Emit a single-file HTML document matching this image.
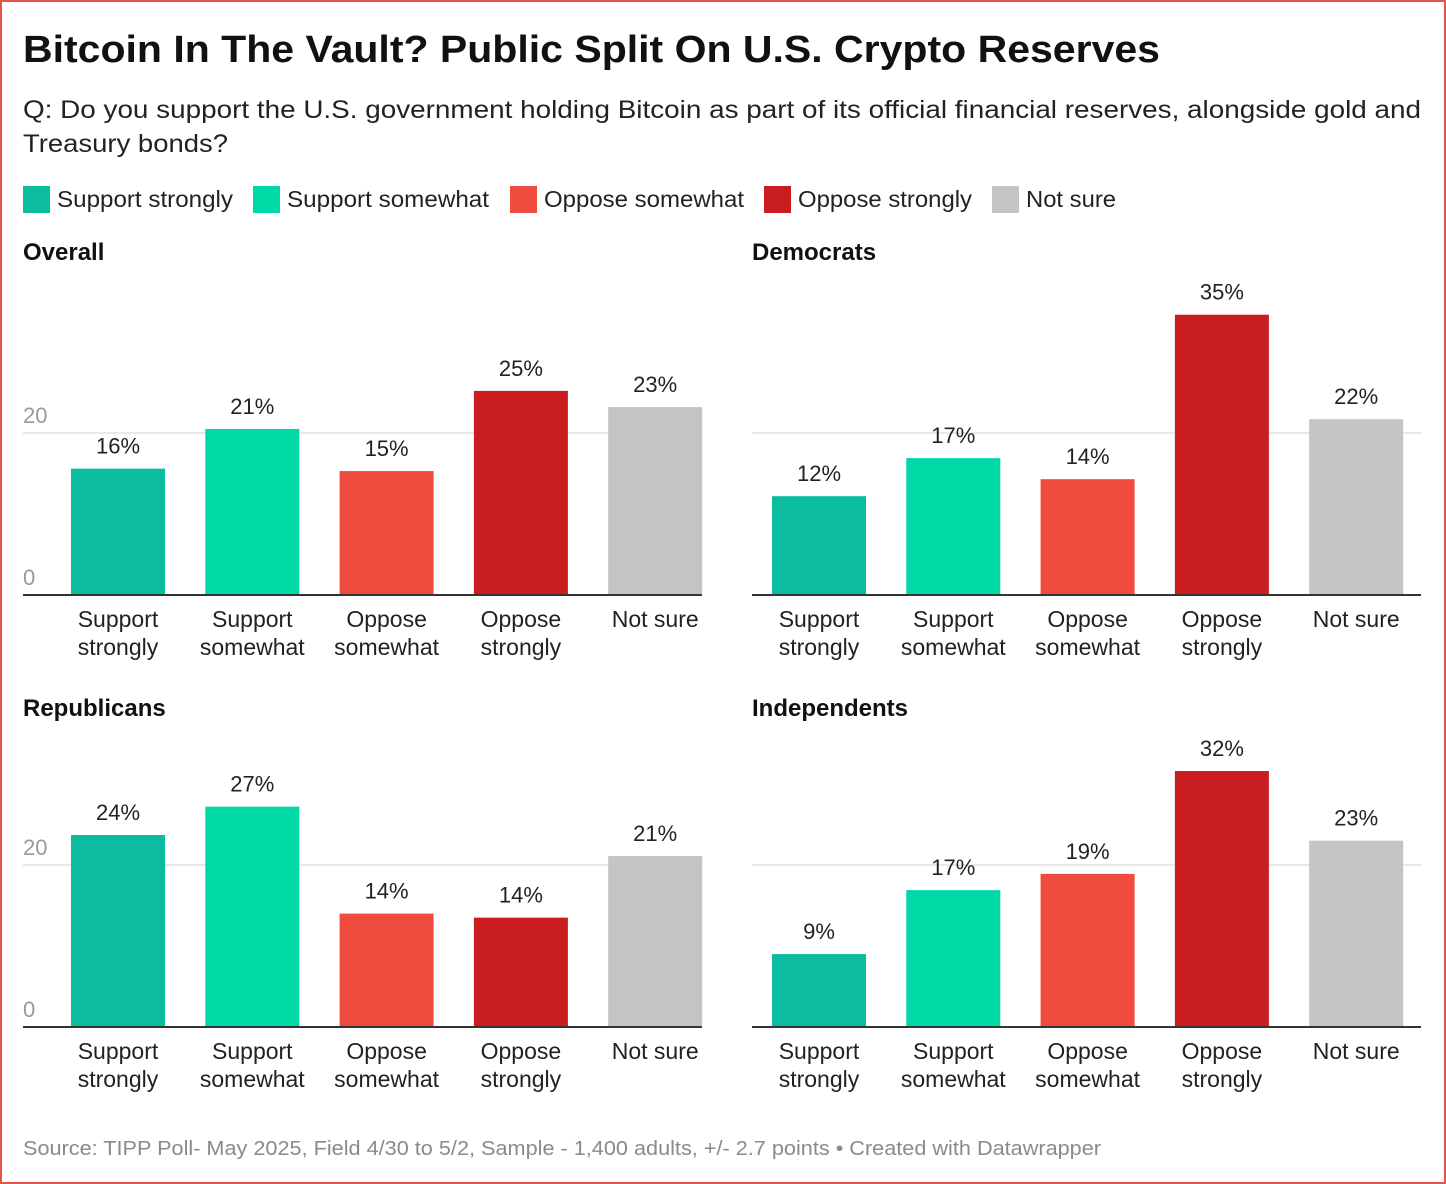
<!DOCTYPE html>
<html><head><meta charset="utf-8">
<style>
html,body{margin:0;padding:0;background:#fff;}
#wrap{position:relative;width:1446px;height:1184px;box-sizing:border-box;border:2px solid #e0564b;overflow:hidden;}
svg text{font-family:"Liberation Sans",Arial,sans-serif;}
</style></head>
<body>
<div id="wrap">
<svg id="svg" width="1442" height="1180" viewBox="2 2 1442 1180" xmlns="http://www.w3.org/2000/svg">
<text x="23" y="62" font-size="38" font-weight="bold" fill="#111" textLength="1137" lengthAdjust="spacingAndGlyphs">Bitcoin In The Vault? Public Split On U.S. Crypto Reserves</text>
<text x="23" y="118" font-size="25" fill="#222" textLength="1398" lengthAdjust="spacingAndGlyphs">Q: Do you support the U.S. government holding Bitcoin as part of its official financial reserves, alongside gold and</text>
<text x="23" y="152" font-size="25" fill="#222" textLength="205" lengthAdjust="spacingAndGlyphs">Treasury bonds?</text>
<g id="legend"></g>
<g id="panels"></g>
<text x="23" y="1155" font-size="20" fill="#8a8a8a" textLength="1078" lengthAdjust="spacingAndGlyphs">Source: TIPP Poll- May 2025, Field 4/30 to 5/2, Sample - 1,400 adults, +/- 2.7 points • Created with Datawrapper</text>
</svg>
</div>
<script>
const categories = ["Support strongly","Support somewhat","Oppose somewhat","Oppose strongly","Not sure"];
const catLines = [["Support","strongly"],["Support","somewhat"],["Oppose","somewhat"],["Oppose","strongly"],["Not sure"]];
const colors = ["#0bbc9f","#00d9a6","#ef4b3e","#c91d1f","#c4c4c4"];
const panelNames = ["Overall","Democrats","Republicans","Independents"];
const overallValues = [15.6,20.5,15.3,25.2,23.2];
const democratValues = [12.2,16.9,14.3,34.6,21.7];
const republicanValues = [23.7,27.2,14.0,13.5,21.1];
const independentValues = [9.0,16.9,18.9,31.6,23.0];
const overallLabels = ["16%","21%","15%","25%","23%"];
const democratLabels = ["12%","17%","14%","35%","22%"];
const republicanLabels = ["24%","27%","14%","14%","21%"];
const independentLabels = ["9%","17%","19%","32%","23%"];
const tickValues = [0,20];

const NS="http://www.w3.org/2000/svg";
function mk(tag,attrs,parent,text){const e=document.createElementNS(NS,tag);for(const k in attrs)e.setAttribute(k,attrs[k]);if(text!==undefined)e.textContent=text;parent.appendChild(e);return e;}

const lg=document.getElementById('legend');
const legX=[23,253,510,764,992];
const legW=[176,202,200,174,90];
categories.forEach((c,i)=>{
  const g=mk('g',{},lg);
  
  
  mk('rect',{x:legX[i],y:186,width:27,height:27,fill:colors[i]},g);
  mk('text',{x:legX[i]+34,y:207,'font-size':23,fill:'#222',textLength:legW[i],lengthAdjust:'spacingAndGlyphs'},g,c);
});

const panels=[
 {name:panelNames[0],vals:overallValues,labs:overallLabels,x0:23,x1:702,base:595,ticks:true,ty:260},
 {name:panelNames[1],vals:democratValues,labs:democratLabels,x0:752,x1:1421,base:595,ticks:false,ty:260},
 {name:panelNames[2],vals:republicanValues,labs:republicanLabels,x0:23,x1:702,base:1027,ticks:true,ty:716},
 {name:panelNames[3],vals:independentValues,labs:independentLabels,x0:752,x1:1421,base:1027,ticks:false,ty:716}
];
const pxPerUnit=8.1, barW=94, step=134.3;
const pg=document.getElementById('panels');
panels.forEach(p=>{
  const g=mk('g',{},pg);
  
  
  const yS=v=>p.base-v*pxPerUnit;
  const firstX=p.x0===23?71:772;
  const xS=i=>firstX+i*step;
  const t=mk('text',{x:p.x0,y:p.ty,'font-size':24,'font-weight':'bold',fill:'#111'},g,p.name);
  
  
  tickValues.forEach(tv=>{
    if(tv!==0){const l=mk('line',{x1:p.x0,x2:p.x1,y1:yS(tv),y2:yS(tv),stroke:'#e2e2e2','stroke-width':1.5},g);
      }
    if(p.ticks){const tl=mk('text',{x:p.x0,y:yS(tv)-10,'font-size':22,fill:'#999'},g,String(tv));
      }
  });
  p.vals.forEach((v,i)=>{
    const r=mk('rect',{x:xS(i),y:yS(v),width:barW,height:v*pxPerUnit,fill:colors[i]},g);
    
    
    const vl=mk('text',{x:xS(i)+barW/2,y:yS(v)-15,'font-size':22,fill:'#222','text-anchor':'middle'},g,p.labs[i]);
    
    
    catLines[i].forEach((ln,j)=>{
      const cl=mk('text',{x:xS(i)+barW/2,y:p.base+32+j*28,'font-size':23,fill:'#222','text-anchor':'middle'},g,ln);
      
      
    });
  });
  const b=mk('line',{x1:p.x0,x2:p.x1,y1:p.base,y2:p.base,stroke:'#333','stroke-width':2},g);
  
  
});
</script>
</body></html>
